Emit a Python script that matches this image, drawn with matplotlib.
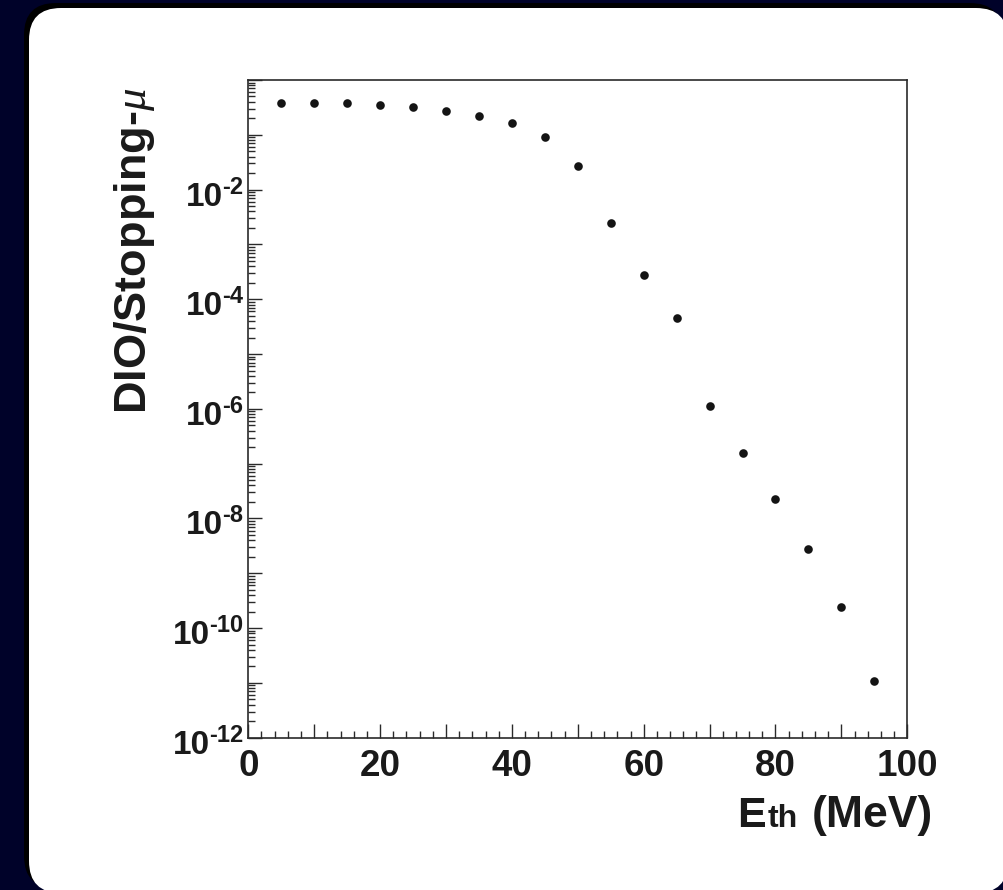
import matplotlib
matplotlib.use("Agg")
import matplotlib.pyplot as plt
import matplotlib.ticker as mticker
import matplotlib.transforms as mtransforms
from matplotlib.patches import FancyBboxPatch
import numpy as np

# ---- data ----
e_threshold = [5, 10, 15, 20, 25, 30, 35, 40, 45, 50, 55, 60, 65, 70, 75, 80, 85, 90, 95]
dio_fraction = [0.385, 0.385, 0.374, 0.344, 0.316, 0.275, 0.221, 0.162, 0.0925, 0.0270,
                2.47e-3, 2.82e-4, 4.5e-5, 1.11e-6, 1.58e-7, 2.28e-8, 2.81e-9, 2.47e-10, 1.07e-11]
x_tick_labels = ["0", "20", "40", "60", "80", "100"]
y_label_exponents = [-2, -4, -6, -8, -10, -12]

plt.rcParams['font.family'] = ['Liberation Sans', 'DejaVu Sans']
plt.rcParams['mathtext.fontset'] = 'custom'
plt.rcParams['mathtext.bf'] = 'Liberation Sans:bold'
plt.rcParams['mathtext.rm'] = 'Liberation Sans:bold'
plt.rcParams['mathtext.it'] = 'Liberation Serif:italic'

W, H = 1004, 890
fig = plt.figure(figsize=(W / 100, H / 100), dpi=100)
fig.patch.set_facecolor('#000229')
ident = mtransforms.IdentityTransform()
txt_color = '#1a1a1a'

# shadow and white rounded panel (pixel coords, y up)
shadow = FancyBboxPatch((24, H - 888), 1002 - 24, 888 - 3,
                        boxstyle="round,pad=0,rounding_size=32",
                        facecolor='black', edgecolor='none', transform=ident, zorder=-3)
panel = FancyBboxPatch((29, H - 893), 1008 - 29, 893 - 8,
                       boxstyle="round,pad=0,rounding_size=32",
                       facecolor='white', edgecolor='none', transform=ident, zorder=-2)
fig.add_artist(shadow)
fig.add_artist(panel)

left, right, top, bottom = 248.3, 907.3, 80.0, 737.7
ax = fig.add_axes([left / W, (H - bottom) / H, (right - left) / W, (bottom - top) / H])
ax.set_facecolor('white')

ax.plot(e_threshold, dio_fraction, linestyle='none', marker='o', markersize=6.2,
        color='#141414', markeredgewidth=0)

ax.set_yscale('log')
ax.set_xlim(0, 100)
ax.set_ylim(1e-12, 1)

frame_color = '#2a2a2a'
for side in ['left', 'bottom', 'top', 'right']:
    ax.spines[side].set_color(frame_color)
    ax.spines[side].set_linewidth(1.2)

# x ticks
ax.xaxis.set_major_locator(mticker.MultipleLocator(10))
ax.xaxis.set_minor_locator(mticker.MultipleLocator(2))
label_map = {int(s): s for s in x_tick_labels}
ax.xaxis.set_major_formatter(mticker.FuncFormatter(
    lambda v, p: label_map.get(int(round(v)), "") if abs(v - round(v)) < 1e-6 else ""))

# y ticks (labels drawn manually below)
ax.yaxis.set_major_locator(mticker.LogLocator(base=10, numticks=30))
ax.yaxis.set_minor_locator(mticker.LogLocator(base=10, subs=np.arange(2, 10), numticks=30))
ax.yaxis.set_major_formatter(mticker.NullFormatter())
ax.yaxis.set_minor_formatter(mticker.NullFormatter())

ax.tick_params(axis='both', which='both', direction='in', color=frame_color,
               top=False, right=False)
ax.tick_params(axis='both', which='major', length=10, width=1.0)
ax.tick_params(axis='both', which='minor', length=5, width=1.0)
ax.tick_params(axis='x', which='major', labelsize=26.5, pad=8, labelcolor=txt_color)
for lab in ax.get_xticklabels():
    lab.set_fontweight('bold')

# manual ROOT-style y tick labels: "10" with raised exponent
fig.canvas.draw()
renderer = fig.canvas.get_renderer()
for e in y_label_exponents:
    y_t = ax.transData.transform((0, 10.0 ** e))[1]  # display y (up)
    t_exp = fig.text(243.5, y_t - 4, '-%d' % (-e), ha='right', va='baseline',
                     fontsize=17, fontweight='bold', color=txt_color, transform=ident)
    bb = t_exp.get_window_extent(renderer)
    fig.text(bb.x0 + 1, y_t - 16, '10', ha='right', va='baseline',
             fontsize=24, fontweight='bold', color=txt_color, transform=ident)

# y label
fig.text(145.7, H - 88, r'DIO/Stopping-$\mu$', rotation=90, rotation_mode='anchor',
         ha='right', va='baseline', fontsize=32.5, fontweight='bold', color=txt_color,
         transform=ident)

# x label: "E" + small "th" + "(MeV)"
base_y = H - 826.7
fig.text(737.5, base_y, 'E', ha='left', va='baseline', fontsize=31, fontweight='bold',
         color=txt_color, transform=ident)
fig.text(767.5, base_y, 'th', ha='left', va='baseline', fontsize=23, fontweight='bold',
         color=txt_color, transform=ident)
fig.text(932.7, base_y, '(MeV)', ha='right', va='baseline', fontsize=32, fontweight='bold',
         color=txt_color, transform=ident)

fig.savefig('out.png', dpi=100, facecolor=fig.get_facecolor())
